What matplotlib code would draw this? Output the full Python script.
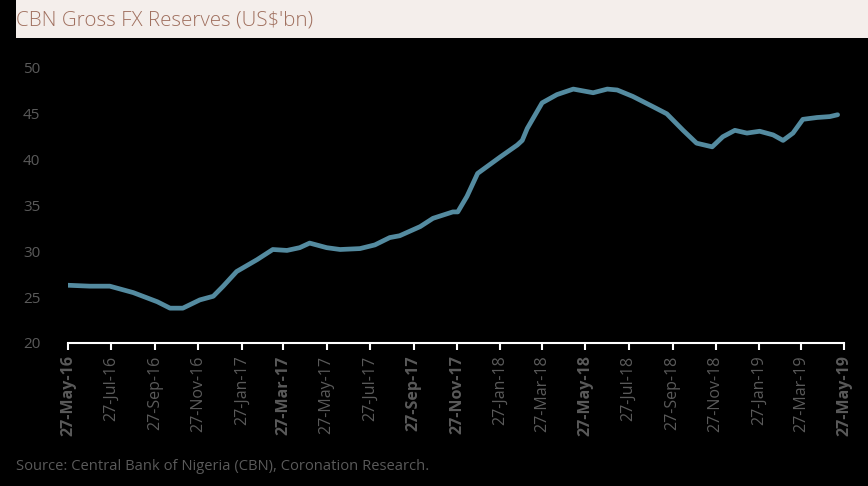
import matplotlib
matplotlib.use("Agg")
import matplotlib.pyplot as plt
import pandas as pd

dates = ["2016-05-27", "2016-06-27", "2016-07-25", "2016-08-27", "2016-09-30", "2016-10-18",
         "2016-11-05", "2016-11-29", "2016-12-18", "2017-01-01", "2017-01-20", "2017-02-18",
         "2017-03-12", "2017-04-01", "2017-04-19", "2017-05-03", "2017-05-27", "2017-06-15",
         "2017-07-13", "2017-08-03", "2017-08-24", "2017-09-07", "2017-10-06", "2017-10-24",
         "2017-11-21", "2017-11-28", "2017-12-11", "2017-12-26", "2018-01-27", "2018-02-20",
         "2018-02-27", "2018-03-06", "2018-03-27", "2018-04-17", "2018-05-10", "2018-06-07",
         "2018-06-27", "2018-07-11", "2018-08-02", "2018-08-30", "2018-09-19", "2018-10-12",
         "2018-10-31", "2018-11-22", "2018-12-07", "2018-12-24", "2019-01-10", "2019-01-28",
         "2019-02-16", "2019-03-02", "2019-03-16", "2019-03-30", "2019-04-19", "2019-05-07",
         "2019-05-18"]
reserves = [26.3, 26.2, 26.2, 25.5, 24.5, 23.8,
            23.8, 24.7, 25.1, 26.2, 27.8, 29.1,
            30.2, 30.1, 30.4, 30.9, 30.4, 30.2,
            30.3, 30.7, 31.5, 31.7, 32.7, 33.6,
            34.3, 34.3, 36.0, 38.5, 40.3, 41.6,
            42.1, 43.4, 46.2, 47.1, 47.7, 47.3,
            47.7, 47.6, 46.9, 45.8, 45.0, 43.2,
            41.8, 41.4, 42.5, 43.2, 42.9, 43.1,
            42.7, 42.1, 42.9, 44.4, 44.6, 44.7,
            44.9]

tick_dates = ["2016-05-27", "2016-07-27", "2016-09-27", "2016-11-27", "2017-01-27", "2017-03-27",
              "2017-05-27", "2017-07-27", "2017-09-27", "2017-11-27", "2018-01-27", "2018-03-27",
              "2018-05-27", "2018-07-27", "2018-09-27", "2018-11-27", "2019-01-27", "2019-03-27",
              "2019-05-27"]
tick_labels = ["27-May-16", "27-Jul-16", "27-Sep-16", "27-Nov-16", "27-Jan-17", "27-Mar-17",
               "27-May-17", "27-Jul-17", "27-Sep-17", "27-Nov-17", "27-Jan-18", "27-Mar-18",
               "27-May-18", "27-Jul-18", "27-Sep-18", "27-Nov-18", "27-Jan-19", "27-Mar-19",
               "27-May-19"]
bold_labels = {"27-May-16", "27-Mar-17", "27-Sep-17", "27-Nov-17", "27-May-18", "27-May-19"}
y_ticks = [20, 25, 30, 35, 40, 45, 50]

title = "CBN Gross FX Reserves (US\\$'bn)"
source = "Source: Central Bank of Nigeria (CBN), Coronation Research."

plt.rcParams['font.family'] = ['Open Sans', 'DejaVu Sans']

W, H = 868, 486
fig = plt.figure(figsize=(W / 100, H / 100), dpi=100, facecolor='black')

# title band
band = fig.add_axes([16 / W, 1 - 38 / H, 1 - 16 / W, 38 / H])
band.set_facecolor('#f4eeeb')
band.set_xticks([]); band.set_yticks([])
for s in band.spines.values():
    s.set_visible(False)
fig.text(16 / W, 1 - 20 / H, title, color='#a0705f', fontsize=14.8, fontweight='light',
         ha='left', va='center')

ax = fig.add_axes([68 / W, 1 - 343 / H, (844 - 68) / W, (343 - 68) / H])
ax.set_facecolor('black')
x = pd.to_datetime(dates)
ax.plot(x, reserves, color='#548ba0', lw=3.4, solid_capstyle='round', solid_joinstyle='round')

ax.set_xlim(pd.Timestamp(tick_dates[0]), pd.Timestamp(tick_dates[-1]))
ax.set_ylim(20, 50)
ax.set_yticks(y_ticks)
ax.set_yticklabels([str(v) for v in y_ticks], color='#5a5a5a', fontsize=11)
ax.tick_params(axis='y', length=0, pad=20)

ax.set_xticks(pd.to_datetime(tick_dates))
ax.set_xticklabels(tick_labels, rotation=90, color='#5a5a5a', fontsize=11.5)
for lbl in ax.get_xticklabels():
    if lbl.get_text() in bold_labels:
        lbl.set_fontweight('bold')
ax.tick_params(axis='x', length=5, width=1.5, color='white', direction='out', pad=4)

for side in ['top', 'right', 'left']:
    ax.spines[side].set_visible(False)
ax.spines['bottom'].set_color('white')
ax.spines['bottom'].set_linewidth(1.5)

fig.text(16 / W, 1 - 466 / H, source, color='#5a5a5a', fontsize=10.6, ha='left', va='center')

fig.savefig('out.png', dpi=100, facecolor='black')
